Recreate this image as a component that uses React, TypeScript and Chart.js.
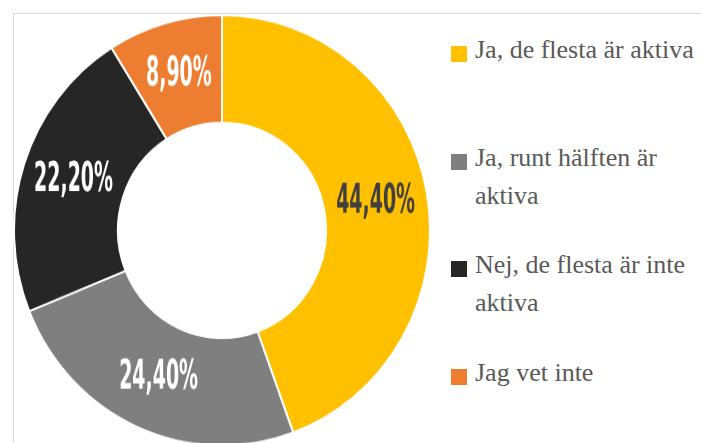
import React, { useEffect, useRef } from "react";
import { Chart, registerables } from "chart.js";

Chart.register(...registerables);

const categories = [
  "Ja, de flesta är aktiva",
  "Ja, runt hälften är aktiva",
  "Nej, de flesta är inte aktiva",
  "Jag vet inte",
];
const values = [44.4, 24.4, 22.2, 8.9];
const sliceColors = ["#FFC000", "#7F7F7F", "#262626", "#ED7D31"];
const labelColors = ["#404040", "#FFFFFF", "#FFFFFF", "#FFFFFF"];

const formatPct = (v: number) => v.toFixed(2).replace(".", ",") + "%";

const sliceLabelPlugin = {
  id: "sliceLabels",
  afterDatasetsDraw(chart: any) {
    const ctx = chart.ctx;
    const meta = chart.getDatasetMeta(0);
    const ds = chart.data.datasets[0];
    meta.data.forEach((arc: any, i: number) => {
      const { x, y } = arc.tooltipPosition(false);
      ctx.save();
      ctx.translate(x, y);
      ctx.scale(0.54, 1);
      ctx.font = 'bold 39px "DejaVu Sans Condensed", "DejaVu Sans", sans-serif';
      ctx.fillStyle = labelColors[i];
      ctx.textAlign = "center";
      ctx.textBaseline = "middle";
      ctx.fillText(formatPct(ds.data[i] as number), 0, 0);
      ctx.restore();
    });
  },
};

export default function App() {
  const canvasRef = useRef<HTMLCanvasElement | null>(null);

  useEffect(() => {
    if (!canvasRef.current) return;
    const chart = new Chart(canvasRef.current, {
      type: "doughnut",
      data: {
        labels: categories,
        datasets: [
          {
            data: values,
            backgroundColor: sliceColors,
            borderColor: "#FFFFFF",
            borderWidth: 2,
          },
        ],
      },
      options: {
        responsive: false,
        maintainAspectRatio: false,
        animation: false,
        cutout: "50%",
        rotation: 0,
        layout: { padding: 0 },
        plugins: {
          legend: { display: false },
          tooltip: { enabled: false },
        },
      },
      plugins: [sliceLabelPlugin],
    });
    return () => chart.destroy();
  }, []);

  const legendTops = [46, 154, 261, 369];

  return (
    <div
      style={{
        position: "fixed",
        left: 0,
        top: 0,
        width: 701,
        height: 443,
        overflow: "hidden",
        background: "#FFFFFF",
      }}
    >
      <div
        style={{
          position: "absolute",
          left: 13,
          top: 13,
          width: 800,
          height: 600,
          borderTop: "1px solid #D9D9D9",
          borderLeft: "1px solid #D9D9D9",
        }}
      />
      <div
        style={{
          position: "absolute",
          left: 12.5,
          top: 13.5,
          width: 418,
          height: 418,
          transform: "scaleY(1.035)",
          transformOrigin: "top left",
        }}
      >
        <canvas ref={canvasRef} width={418} height={418} style={{ width: 418, height: 418, display: "block" }} />
      </div>
      {categories.map((c, i) => (
        <div key={c} style={{ position: "absolute", left: 451, top: legendTops[i] }}>
          <div
            style={{
              position: "absolute",
              left: 0,
              top: 0,
              width: 16,
              height: 16,
              background: sliceColors[i],
            }}
          />
          <div
            style={{
              position: "absolute",
              left: 24,
              top: -15,
              width: 232,
              fontFamily: '"Liberation Serif", "Times New Roman", "DejaVu Serif", serif',
              fontSize: 26,
              lineHeight: "38px",
              color: "#595959",
            }}
          >
            {c}
          </div>
        </div>
      ))}
    </div>
  );
}
